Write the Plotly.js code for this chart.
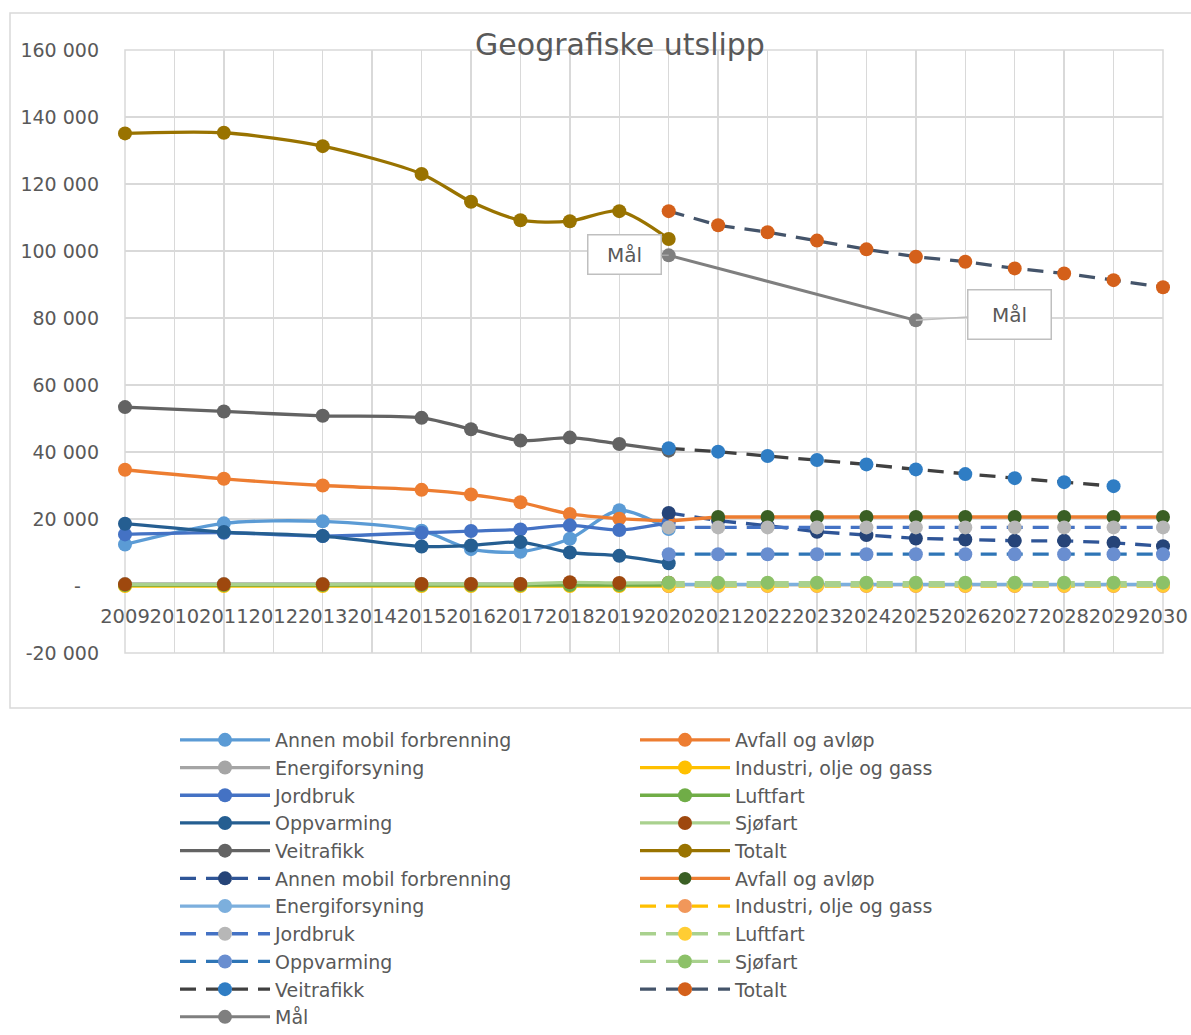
<!DOCTYPE html>
<html><head><meta charset="utf-8">
<script src="https://cdn.plot.ly/plotly-3.0.1.min.js"></script>
<style>
html,body{margin:0;padding:0;background:#fff;}
#chart{width:1191px;height:1035px;}
</style></head><body><div id="chart"></div>
<script>
// ---- data ----
const histYears = [2009, 2011, 2013, 2015, 2016, 2017, 2018, 2019, 2020];
const futYears = [2020, 2021, 2022, 2023, 2024, 2025, 2026, 2027, 2028, 2029, 2030];
const veiFutYears = [2020, 2021, 2022, 2023, 2024, 2025, 2026, 2027, 2028, 2029];
const maalYears = [2020, 2025];

const annenMobil = [12400, 18700, 19300, 16500, 11000, 10200, 14100, 22600, 17000];
const avfall = [34700, 32000, 30000, 28700, 27300, 25000, 21500, 20100, 19400];
const energi = [600, 600, 600, 600, 600, 600, 700, 700, 700];
const industri = [0, 0, 0, 0, 0, 0, 0, 0, 0];
const jordbruk = [15400, 15900, 14900, 15900, 16400, 16900, 18100, 16700, 18900];
const luftfart = [300, 300, 300, 300, 300, 300, 300, 300, 300];
const oppvarming = [18600, 16100, 14900, 11800, 12100, 13100, 10000, 9000, 6800];
const sjofart = [500, 500, 500, 600, 600, 600, 1100, 900, 1000];
const veitrafikk = [53400, 52100, 50800, 50200, 46800, 43400, 44300, 42400, 40400];
const totalt = [135100, 135300, 131300, 123000, 114700, 109200, 108900, 111900, 103600];

const annenMobilF = [21800, 19500, 18000, 16200, 15200, 14200, 13900, 13500, 13500, 12900, 11900];
const avfallF = [19400, 20600, 20600, 20600, 20600, 20600, 20600, 20600, 20600, 20600, 20600];
const energiF = [500, 500, 500, 500, 500, 500, 500, 500, 500, 500, 500];
const industriF = [0, 0, 0, 0, 0, 0, 0, 0, 0, 0, 0];
const jordbrukF = [17500, 17500, 17500, 17500, 17500, 17500, 17500, 17500, 17500, 17500, 17500];
const luftfartF = [100, 100, 100, 100, 100, 100, 100, 100, 100, 100, 100];
const oppvarmingF = [9500, 9500, 9500, 9500, 9500, 9500, 9500, 9500, 9500, 9500, 9500];
const sjofartF = [1000, 1000, 1000, 1000, 1000, 1000, 1000, 1000, 1000, 1000, 1000];
const veitrafikkF = [41100, 40100, 38800, 37600, 36300, 34800, 33400, 32200, 31000, 29800];
const totaltF = [111900, 107700, 105600, 103100, 100500, 98300, 96800, 94800, 93300, 91300, 89200];
const maal = [98700, 79300];

const yTickVals = [-20000, 0, 20000, 40000, 60000, 80000, 100000, 120000, 140000, 160000];
const yTickText = ['-20 000', '-\u00a0\u00a0\u00a0', '20 000', '40 000', '60 000', '80 000', '100 000', '120 000', '140 000', '160 000'];
const xTickVals = [2009, 2010, 2011, 2012, 2013, 2014, 2015, 2016, 2017, 2018, 2019, 2020, 2021, 2022, 2023, 2024, 2025, 2026, 2027, 2028, 2029, 2030];

// ---- styling ----
const FONT = 'DejaVu Sans';
const TXT = '#595959';
const DASH = '16px,10px';

function tr(name, x, y, lineColor, markerColor, dash, legend, spline, extra) {
  const t = {
    type: 'scatter', mode: 'lines+markers', name: name, x: x, y: y,
    line: {color: lineColor, width: 3.3, dash: dash || 'solid', shape: spline ? 'spline' : 'linear', smoothing: 0.8},
    marker: {color: markerColor, size: 14, opacity: 1, line: {width: 0}},
    legend: legend, cliponaxis: false, hoverinfo: 'skip'
  };
  return Object.assign(t, extra || {});
}

const traces = [
  tr('Annen mobil forbrenning', histYears, annenMobil, '#5B9BD5', '#5B9BD5', null, 'legend', true),
  tr('Avfall og avløp', histYears, avfall, '#ED7D31', '#ED7D31', null, 'legend2', true),
  tr('Energiforsyning', histYears, energi, '#A5A5A5', '#A5A5A5', null, 'legend', true),
  tr('Industri, olje og gass', histYears, industri, '#FFC000', '#FFC000', null, 'legend2', true),
  tr('Jordbruk', histYears, jordbruk, '#4472C4', '#4472C4', null, 'legend', true),
  tr('Luftfart', histYears, luftfart, '#70AD47', '#70AD47', null, 'legend2', true),
  tr('Oppvarming', histYears, oppvarming, '#255E91', '#255E91', null, 'legend', true),
  tr('Sjøfart', histYears, sjofart, '#A9D18E', '#9E480E', null, 'legend2', true),
  tr('Veitrafikk', histYears, veitrafikk, '#636363', '#636363', null, 'legend', true),
  tr('Totalt', histYears, totalt, '#997300', '#997300', null, 'legend2', true),
  tr('Annen mobil forbrenning', futYears, annenMobilF, '#2F5597', '#264478', DASH, 'legend'),
  tr('Avfall og avløp', futYears, avfallF, '#ED7D31', '#3A5F24', null, 'legend2', false,
     {marker: {color: '#3A5F24', opacity: 1, size: [0, 14, 14, 14, 14, 14, 14, 14, 14, 14, 14], line: {width: 0}}}),
  tr('Energiforsyning', futYears, energiF, '#7CAFDD', '#7CAFDD', null, 'legend'),
  tr('Industri, olje og gass', futYears, industriF, '#FFC000', '#F1975A', DASH, 'legend2'),
  tr('Jordbruk', futYears, jordbrukF, '#4472C4', '#B7B7B7', DASH, 'legend'),
  tr('Luftfart', futYears, luftfartF, '#A9D18E', '#FFCD33', DASH, 'legend2'),
  tr('Oppvarming', futYears, oppvarmingF, '#2E75B6', '#698ED0', DASH, 'legend'),
  tr('Sjøfart', futYears, sjofartF, '#A9D18E', '#8CC168', DASH, 'legend2'),
  tr('Veitrafikk', veiFutYears, veitrafikkF, '#404040', '#2F7DC4', DASH, 'legend'),
  tr('Totalt', futYears, totaltF, '#44546A', '#D4601A', DASH, 'legend2'),
  tr('Mål', maalYears, maal, '#7F7F7F', '#7F7F7F', null, 'legend', false,
     {line: {color: '#7F7F7F', width: 3}})
];

const legendBase = {
  yanchor: 'top', xanchor: 'left', orientation: 'v', traceorder: 'normal',
  font: {family: FONT, size: 19, color: TXT}, itemwidth: 90,
  bgcolor: 'rgba(0,0,0,0)', borderwidth: 0, tracegroupgap: 0
};
const legendTop = (653 - 721) / 603;

const layout = {
  width: 1191, height: 1035,
  margin: {l: 125, r: 28, t: 50, b: 382, autoexpand: false},
  paper_bgcolor: '#ffffff', plot_bgcolor: '#ffffff',
  font: {family: FONT, color: TXT},
  title: {
    text: 'Geografiske utslipp',
    font: {family: FONT, size: 30, color: TXT},
    x: 620 / 1191, xref: 'container', xanchor: 'center',
    y: 1 - 44 / 1035, yref: 'container', yanchor: 'middle'
  },
  xaxis: {
    type: 'linear', range: [2009, 2030],
    tickmode: 'array', tickvals: xTickVals, ticktext: xTickVals.map(String),
    tickangle: 0, showgrid: true, gridcolor: '#D9D9D9', gridwidth: 1.5,
    zeroline: false, showline: false, ticks: '',
    anchor: 'free', position: (653 - 587) / 603,
    ticklabelstandoff: 15,
    tickfont: {family: FONT, size: 19.5, color: TXT}
  },
  yaxis: {
    range: [-20000, 160000],
    tickmode: 'array', tickvals: yTickVals, ticktext: yTickText,
    showgrid: true, gridcolor: '#D9D9D9', gridwidth: 1.5,
    zeroline: false, showline: false, ticks: '',
    ticklabelstandoff: 25,
    tickfont: {family: FONT, size: 19, color: TXT}
  },
  legend: Object.assign({x: (175 - 125) / 1038, y: legendTop}, legendBase),
  legend2: Object.assign({x: (635 - 125) / 1038, y: legendTop}, legendBase),
  shapes: [
    {type: 'rect', xref: 'paper', yref: 'paper', x0: 0, x1: 1, y0: 0, y1: 1,
     line: {color: '#D9D9D9', width: 1.5}, fillcolor: 'rgba(0,0,0,0)', layer: 'below'},
    {type: 'rect', xref: 'paper', yref: 'paper',
     x0: (10 - 125) / 1038, x1: (1200 - 125) / 1038,
     y0: (653 - 708) / 603, y1: (653 - 13) / 603,
     line: {color: '#D9D9D9', width: 1.5}, fillcolor: 'rgba(0,0,0,0)', layer: 'below'}
  ],
  annotations: [
    {x: maalYears[0], y: maal[0], xref: 'x', yref: 'y', text: 'Mål',
     showarrow: true, arrowhead: 0, arrowwidth: 1.5, arrowcolor: '#A6A6A6',
     ax: -44, ay: -1, bgcolor: '#ffffff', bordercolor: '#BFBFBF', borderwidth: 1.5,
     borderpad: 6, width: 60, height: 26, font: {family: FONT, size: 20, color: TXT}},
    {x: maalYears[1], y: maal[1], xref: 'x', yref: 'y', text: 'Mål',
     showarrow: true, arrowhead: 0, arrowwidth: 1.5, arrowcolor: '#BFBFBF',
     ax: 94, ay: -6, bgcolor: '#ffffff', bordercolor: '#BFBFBF', borderwidth: 1.5,
     borderpad: 6, width: 70, height: 36, font: {family: FONT, size: 20, color: TXT}}
  ],
  hovermode: false
};

Plotly.newPlot('chart', traces, layout, {displayModeBar: false, staticPlot: true});
</script>
</body></html>
